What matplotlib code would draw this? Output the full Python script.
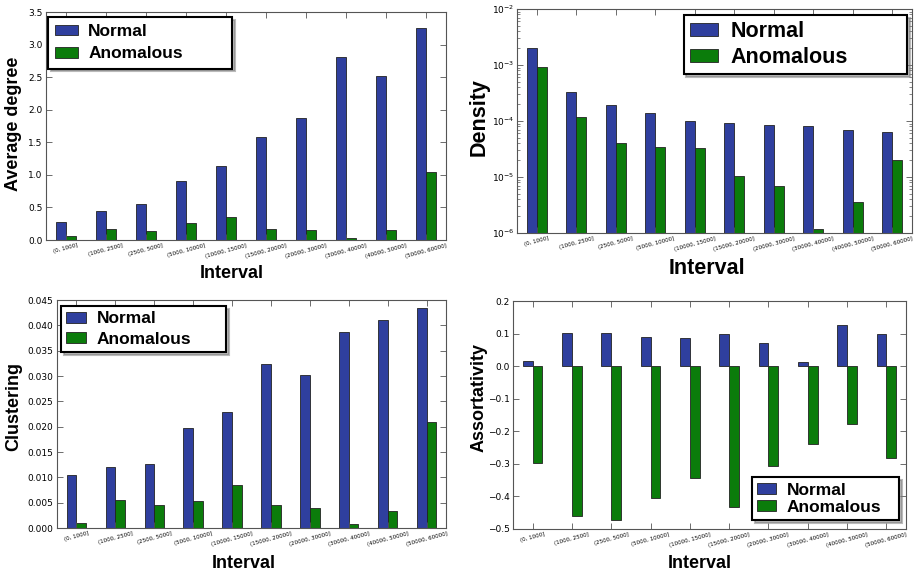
import numpy as np
import matplotlib
matplotlib.use('Agg')
import matplotlib.pyplot as plt

# interval bins used on every panel
intervals = ['(0, 1000]', '(1000, 2500]', '(2500, 5000]', '(5000, 10000]', '(10000, 15000]',
             '(15000, 20000]', '(20000, 30000]', '(30000, 40000]', '(40000, 50000]', '(50000, 60000]']

degree_normal = [0.28, 0.44, 0.56, 0.91, 1.13, 1.58, 1.88, 2.81, 2.51, 3.25]
degree_anom = [0.056, 0.17, 0.14, 0.26, 0.36, 0.17, 0.15, 0.03, 0.15, 1.05]

density_normal = [2.0e-3, 3.3e-4, 1.95e-4, 1.39e-4, 1.0e-4, 9.3e-5, 8.6e-5, 8.3e-5, 6.9e-5, 6.3e-5]
density_anom = [9.3e-4, 1.18e-4, 4.1e-5, 3.5e-5, 3.3e-5, 1.04e-5, 6.9e-6, 1.2e-6, 3.6e-6, 2.0e-5]

clust_normal = [0.0105, 0.0121, 0.0126, 0.0197, 0.0228, 0.0323, 0.0302, 0.0386, 0.0410, 0.0435]
clust_anom = [0.00105, 0.0056, 0.0045, 0.0054, 0.0085, 0.0045, 0.0039, 0.0008, 0.0033, 0.0210]

assort_normal = [0.017, 0.101, 0.103, 0.090, 0.085, 0.098, 0.071, 0.012, 0.127, 0.098]
assort_anom = [-0.298, -0.459, -0.473, -0.405, -0.343, -0.431, -0.308, -0.240, -0.177, -0.282]

BLUE = '#2f3f9e'
GREEN = '#0b7c0b'
W, H = 919, 575
BOLD = 'Liberation Sans'


def px_axes(fig, left, right, top, bottom):
    return fig.add_axes([left / W, 1 - bottom / H, (right - left) / W, (bottom - top) / H])


def panel(ax, normal, anom, ylabel, ylim, lab_size, ylab_xy, xlab_xy,
          leg_loc, leg_box, leg_size, handlelen, spacing, bpad, log=False):
    x = np.arange(len(intervals))
    ax.bar(x - 0.125, normal, 0.25, color=BLUE, edgecolor='#222222', linewidth=0.6, label='Normal')
    ax.bar(x + 0.125, anom, 0.25, color=GREEN, edgecolor='#222222', linewidth=0.6, label='Anomalous')
    if log:
        ax.set_yscale('log')
    ax.set_xlim(-0.5, len(intervals) - 0.5)
    ax.set_ylim(*ylim)
    ax.set_xticks(x)
    ax.set_xticklabels(intervals, rotation=15, fontsize=4, ha='center')
    ax.tick_params(axis='y', labelsize=6.5, pad=2.5 if not log else 2)
    ax.tick_params(which='both', direction='in', top=True, right=True, color='#555555')
    ax.tick_params(which='major', length=4, width=0.6)
    ax.tick_params(which='minor', length=2, width=0.5)
    ax.tick_params(axis='x', pad=2)
    for s in ax.spines.values():
        s.set_color('#555555')
        s.set_linewidth(0.8)
    ax.set_ylabel(ylabel, fontsize=lab_size, fontweight='bold', family=BOLD)
    ax.set_xlabel('Interval', fontsize=lab_size, fontweight='bold', family=BOLD, va='top')
    ax.yaxis.set_label_coords(*ylab_xy)
    ax.xaxis.set_label_coords(*xlab_xy)
    leg = ax.legend(loc=leg_loc, bbox_to_anchor=leg_box, mode='expand', borderaxespad=0,
                    prop={'family': BOLD, 'weight': 'bold', 'size': leg_size},
                    fancybox=False, shadow={'color': '#777777', 'alpha': 0.5},
                    framealpha=1, edgecolor='black',
                    borderpad=bpad, labelspacing=spacing, handlelength=handlelen,
                    handleheight=0.55, handletextpad=0.6)
    leg.get_frame().set_linewidth(1.5)


fig = plt.figure(figsize=(W / 100, H / 100), dpi=100)

ax1 = px_axes(fig, 46, 446, 12, 240)
panel(ax1, degree_normal, degree_anom, 'Average degree', (0, 3.5), 13,
      (-0.06, 0.509), (0.465, -0.11), 'upper left', (0.005, 0.978, 0.46, 0), 12.5, 1.3,
      0.41, 0.42)

ax2 = px_axes(fig, 517, 912, 9, 233)
panel(ax2, density_normal, density_anom, 'Density', (1e-6, 1e-2), 15.5,
      (-0.07, 0.518), (0.482, -0.112), 'upper right', (0.422, 0.973, 0.565, 0), 15.5, 1.3,
      0.21, 0.29, log=True)

ax3 = px_axes(fig, 57, 446, 300, 528)
panel(ax3, clust_normal, clust_anom, 'Clustering', (0, 0.045), 13,
      (-0.09, 0.531), (0.479, -0.118), 'upper left', (0.01, 0.974, 0.424, 0), 12.5, 1.15,
      0.29, 0.32)

ax4 = px_axes(fig, 513, 906, 301, 529)
panel(ax4, assort_normal, assort_anom, 'Assortativity', (-0.5, 0.2), 13,
      (-0.066, 0.575), (0.476, -0.114), 'lower right', (0.608, 0.04, 0.374, 0), 12.5, 1.1,
      0.12, 0.3)

plt.savefig('out.png', dpi=100, facecolor='white')
